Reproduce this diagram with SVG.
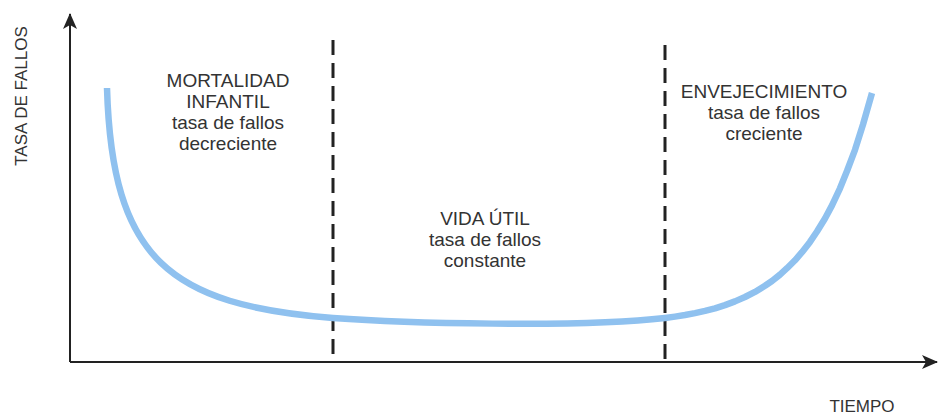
<svg xmlns="http://www.w3.org/2000/svg" width="938" height="415" viewBox="0 0 938 415">
  <defs>
    <style>
      .lbl { font-family: "Liberation Sans", Arial, sans-serif; font-size: 19px; fill: #333; text-anchor: middle; }
      .ax { font-family: "Liberation Sans", Arial, sans-serif; font-size: 17px; fill: #333; text-anchor: middle; }
      .axis { stroke: #222; stroke-width: 2; fill: none; }
      .div { stroke: #222; stroke-width: 3; stroke-dasharray: 15 8; fill: none; }
      .curve { stroke: #8fc1ef; stroke-width: 6.5; fill: none; stroke-linejoin: round; }
    </style>
    <marker id="arr" viewBox="0 0 16 14" refX="15" refY="7" markerWidth="16" markerHeight="14" markerUnits="userSpaceOnUse" orient="auto">
      <path d="M0,0 L16,7 L0,14 L4,7 Z" fill="#222"/>
    </marker>
  </defs>
  <rect width="938" height="415" fill="#fff"/>
  <g id="connectors">
    <line class="axis" x1="70" y1="362" x2="70" y2="14" marker-end="url(#arr)"/>
    <line class="axis" x1="70" y1="362" x2="937" y2="362" marker-end="url(#arr)"/>
    <line class="div" x1="333" y1="40" x2="333" y2="357"/>
    <line class="div" x1="665" y1="45" x2="665" y2="360"/>
    <path class="curve" d="M107,88 C112,260 170,305 333,318 C400,323 580,328 665,318 L675,316.6 L685,315 L695,313.1 L705,310.9 L715,308.3 L725,305.1 L735,301.4 L745,297 L755,291.9 L765,285.8 L772,281 L780,274.6 L787,268.2 L795,260.3 L802,252.2 L810,241.9 L817,231.5 L825,218.5 L832,205.4 L840,188.3 L847,171 L855,149.8 L863,124.5 L872,93"/>
  </g>
  <g id="y-label">
    <text class="ax" transform="translate(27,96) rotate(-90)">TASA DE FALLOS</text>
  </g>
  <g id="x-label">
    <text class="ax" x="862" y="412">TIEMPO</text>
  </g>
  <g id="mortalidad">
    <text class="lbl" x="228" y="87">MORTALIDAD</text>
    <text class="lbl" x="228" y="108">INFANTIL</text>
    <text class="lbl" x="228" y="129">tasa de fallos</text>
    <text class="lbl" x="228" y="150">decreciente</text>
  </g>
  <g id="vida-util">
    <text class="lbl" x="485" y="225">VIDA ÚTIL</text>
    <text class="lbl" x="485" y="246">tasa de fallos</text>
    <text class="lbl" x="485" y="267">constante</text>
  </g>
  <g id="envejecimiento">
    <text class="lbl" x="764" y="98">ENVEJECIMIENTO</text>
    <text class="lbl" x="764" y="119">tasa de fallos</text>
    <text class="lbl" x="764" y="140">creciente</text>
  </g>
</svg>
